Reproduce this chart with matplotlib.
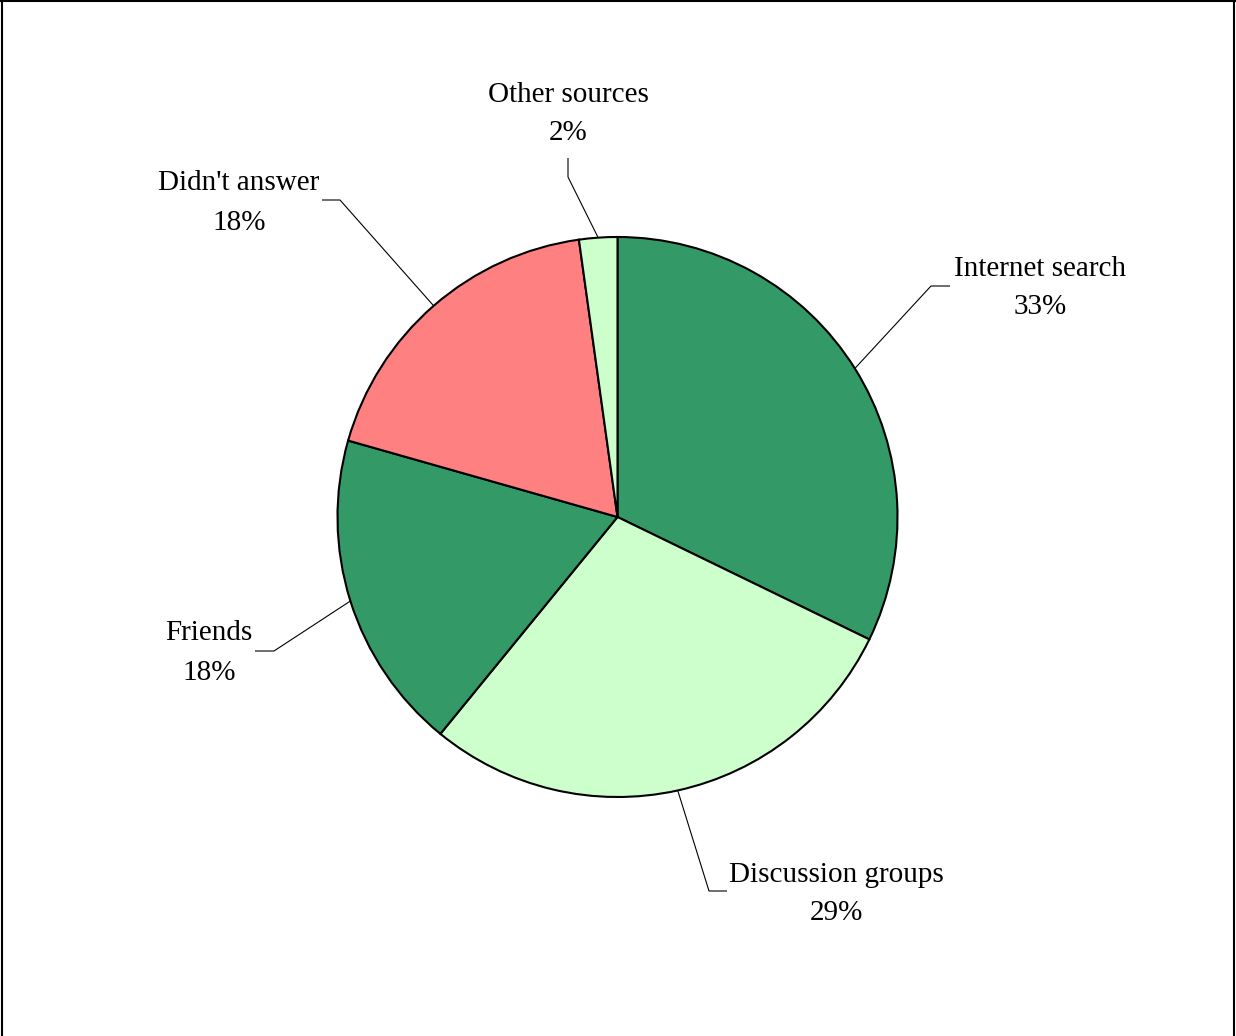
import matplotlib
matplotlib.use('Agg')
import matplotlib.pyplot as plt
from matplotlib.lines import Line2D
import numpy as np

# slice data, clockwise from 12 o'clock
categories = ['Internet search', 'Discussion groups', 'Friends',
              "Didn't answer", 'Other sources']
shares = [32.2, 28.7, 18.5, 18.4, 2.2]
pct_labels = ['33%', '29%', '18%', '18%', '2%']
colors = ['#339966', '#CCFFCC', '#339966', '#FF8080', '#CCFFCC']

W, H = 1236, 1036
plt.rcParams['font.family'] = ['Liberation Serif', 'DejaVu Serif']

fig = plt.figure(figsize=(W / 100, H / 100), dpi=100)
ax = fig.add_axes([0, 0, 1, 1])

cx, cy, r = 617.5, H - 517, 280
wedges, _ = ax.pie(shares, colors=colors, startangle=90, counterclock=False,
                   center=(cx, cy), radius=r, frame=True,
                   wedgeprops=dict(edgecolor='black', linewidth=1.5))
ax.set_xlim(0, W)
ax.set_ylim(0, H)
ax.set_aspect('equal')
ax.axis('off')

# label layout (pixel coords, y from top): text centre, elbow, stub end
layout = [
    ((1040, 288), (931, 286), (950, 286)),
    ((836, 894), (709, 891), (727, 891)),
    ((209, 653), (274, 651), (255, 651)),
    ((239, 203), (340, 200), (322, 200)),
    ((568, 114), (568, 177), (568, 158)),
]

for w, name, pct, (txt, elbow, stub) in zip(wedges, categories, pct_labels, layout):
    mid = np.deg2rad((w.theta1 + w.theta2) / 2)
    x0, y0 = cx + r * np.cos(mid), cy + r * np.sin(mid)
    xs = [x0, elbow[0], stub[0]]
    ys = [y0, H - elbow[1], H - stub[1]]
    ax.plot(xs, ys, color='black', lw=0.8, solid_capstyle='butt')
    ax.text(txt[0], H - txt[1], name + '\n' + pct, ha='center', va='center',
            fontsize=21, linespacing=1.65)

# outer frame
for xs, ys in [([0.0015, 0.0015], [0, 1]), ([0, 1], [0.999, 0.999]),
               ([0.9985, 0.9985], [0, 1])]:
    fig.add_artist(Line2D(xs, ys, color='black', lw=1.5, transform=fig.transFigure))

fig.savefig('out.png', dpi=100)
